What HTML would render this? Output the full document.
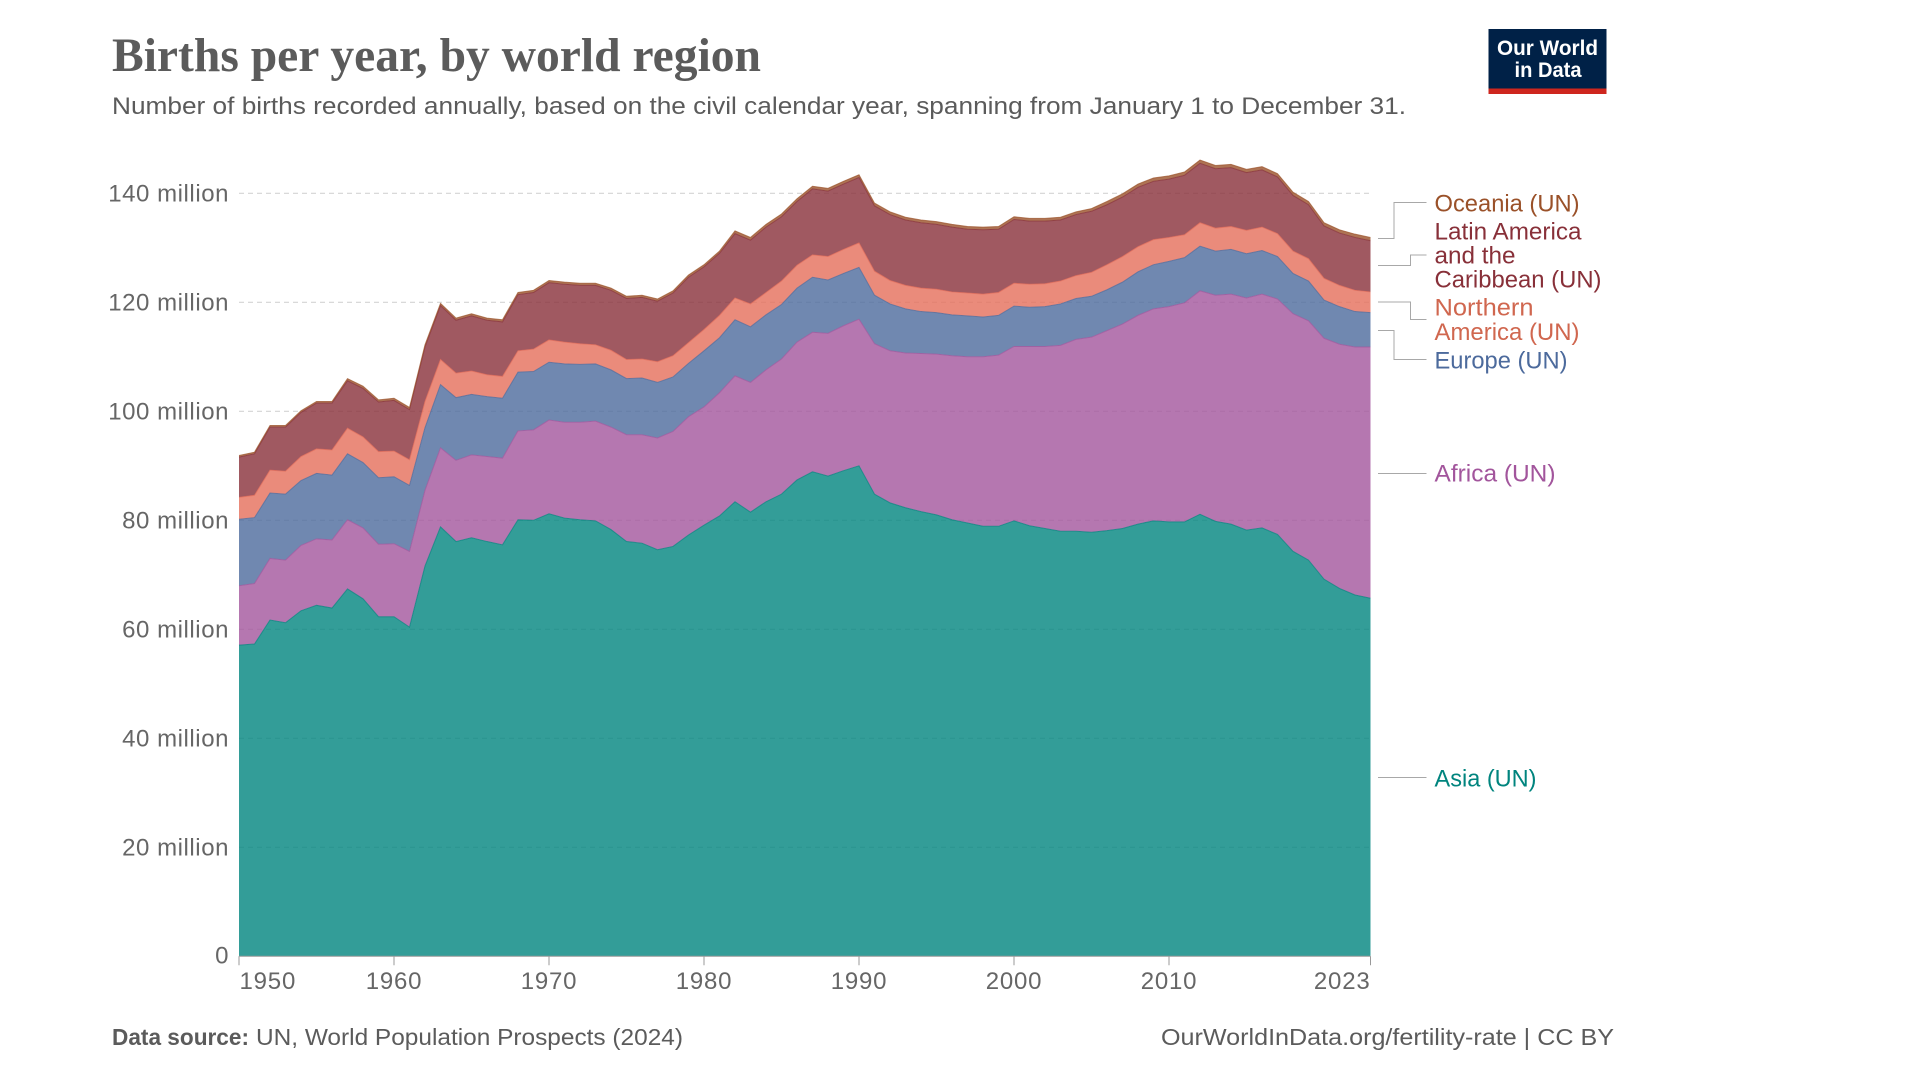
<!DOCTYPE html>
<html lang="en">
<head>
<meta charset="utf-8">
<title>Births per year, by world region</title>
<style>
html,body{margin:0;padding:0;background:#fff;width:1920px;height:1080px;overflow:hidden}
svg{display:block;font-family:"Liberation Sans",sans-serif}
</style>
</head>
<body>
<svg id="chart" xmlns="http://www.w3.org/2000/svg" width="1920" height="1080" viewBox="0 0 1920 1080">
  <rect width="1920" height="1080" fill="#fff"/>
  <text x="112" y="71" font-family="'Liberation Serif',serif" font-weight="700" font-size="48" fill="#5b5b5b" textLength="649" lengthAdjust="spacingAndGlyphs">Births per year, by world region</text>
  <text x="112" y="114" font-size="24" fill="#5b5b5b" textLength="1294" lengthAdjust="spacingAndGlyphs">Number of births recorded annually, based on the civil calendar year, spanning from January 1 to December 31.</text>

  <g>
    <rect x="1488.5" y="29" width="118" height="65" fill="#002147"/>
    <rect x="1488.5" y="88.5" width="118" height="5.5" fill="#ce261e"/>
    <text x="1497" y="55" font-size="21" font-weight="700" fill="#fff" textLength="101" lengthAdjust="spacingAndGlyphs">Our World</text>
    <text x="1514.5" y="77" font-size="21" font-weight="700" fill="#fff" textLength="67" lengthAdjust="spacingAndGlyphs">in Data</text>
  </g>

  <g id="grid"></g>
  <g id="areas"></g>
  <g id="borders"></g>
  <g id="yaxis"></g>
  <g id="xaxis"></g>

  <g fill="none" stroke="#a8a8a8" stroke-width="1">
    <path d="M1378 238.5H1394V202.5H1426.5"/>
    <path d="M1378 265.5H1410.5V255H1426.5"/>
    <path d="M1378 302H1410.5V319.5H1426.5"/>
    <path d="M1378 330.5H1394V359.5H1426.5"/>
    <path d="M1378 473.5H1426.5"/>
    <path d="M1378 777.5H1426.5"/>
  </g>

  <g font-size="24">
    <text x="1434.5" y="211.5" fill="#9a5129" textLength="145" lengthAdjust="spacingAndGlyphs">Oceania (UN)</text>
    <g fill="#883039">
      <text x="1434.5" y="239.5" textLength="147" lengthAdjust="spacingAndGlyphs">Latin America</text>
      <text x="1434.5" y="263.5" textLength="81" lengthAdjust="spacingAndGlyphs">and the</text>
      <text x="1434.5" y="287.5" textLength="167" lengthAdjust="spacingAndGlyphs">Caribbean (UN)</text>
    </g>
    <g fill="#d0674f">
      <text x="1434.5" y="315.5" textLength="99" lengthAdjust="spacingAndGlyphs">Northern</text>
      <text x="1434.5" y="340" textLength="145" lengthAdjust="spacingAndGlyphs">America (UN)</text>
    </g>
    <text x="1434.5" y="368.5" fill="#4c6a9c" textLength="133" lengthAdjust="spacingAndGlyphs">Europe (UN)</text>
    <text x="1434.5" y="481.5" fill="#a2559c" textLength="121" lengthAdjust="spacingAndGlyphs">Africa (UN)</text>
    <text x="1434.5" y="786.5" fill="#00847e" textLength="102" lengthAdjust="spacingAndGlyphs">Asia (UN)</text>
  </g>

  <text x="112" y="1045" font-size="23" font-weight="700" fill="#5b5b5b" textLength="137" lengthAdjust="spacingAndGlyphs">Data source:</text>
  <text x="256" y="1045" font-size="23" fill="#5b5b5b" textLength="427" lengthAdjust="spacingAndGlyphs">UN, World Population Prospects (2024)</text>
  <text x="1161" y="1045" font-size="23" fill="#5b5b5b" textLength="453" lengthAdjust="spacingAndGlyphs">OurWorldInData.org/fertility-rate | CC BY</text>
</svg>

<script>
const years = [1950,1951,1952,1953,1954,1955,1956,1957,1958,1959,
  1960,1961,1962,1963,1964,1965,1966,1967,1968,1969,
  1970,1971,1972,1973,1974,1975,1976,1977,1978,1979,
  1980,1981,1982,1983,1984,1985,1986,1987,1988,1989,
  1990,1991,1992,1993,1994,1995,1996,1997,1998,1999,
  2000,2001,2002,2003,2004,2005,2006,2007,2008,2009,
  2010,2011,2012,2013,2014,2015,2016,2017,2018,2019,
  2020,2021,2022,2023];
// Births per year, millions
const asia = [57.1,57.3,61.7,61.2,63.4,64.4,63.9,67.4,65.6,62.3,
  62.3,60.4,71.6,78.8,76.1,76.8,76.1,75.5,80.1,80.0,
  81.2,80.4,80.1,79.9,78.3,76.1,75.8,74.6,75.2,77.3,
  79.1,80.8,83.4,81.5,83.4,84.8,87.4,88.9,88.1,89.1,
  90.0,84.8,83.2,82.3,81.6,81.0,80.1,79.5,78.9,78.9,
  79.9,79.0,78.5,78.0,78.0,77.8,78.1,78.5,79.3,79.9,
  79.7,79.7,81.1,79.8,79.3,78.2,78.6,77.4,74.3,72.7,
  69.2,67.5,66.3,65.7];
const africa = [10.9,11.1,11.3,11.5,12.0,12.2,12.5,12.7,13.0,13.3,
  13.4,13.9,13.9,14.5,14.9,15.2,15.6,15.9,16.3,16.6,
  17.2,17.6,17.9,18.3,18.8,19.6,19.9,20.5,21.1,21.7,
  21.7,22.6,23.1,23.8,24.2,24.8,25.3,25.6,26.2,26.6,
  26.9,27.6,27.9,28.4,29.0,29.5,30.1,30.5,31.1,31.4,
  32.0,32.9,33.4,34.1,35.2,35.8,36.7,37.5,38.3,38.9,
  39.5,40.2,41.0,41.5,42.2,42.6,42.9,43.2,43.6,43.9,
  44.2,44.8,45.5,46.1];
const europe = [12.2,12.1,12.0,12.1,11.9,12.0,11.9,12.1,12.0,12.2,
  12.3,12.1,11.5,11.6,11.5,11.1,11.0,11.0,10.8,10.7,
  10.6,10.7,10.6,10.5,10.5,10.3,10.4,10.2,10.0,9.8,
  10.3,10.1,10.3,10.2,10.1,10.0,9.9,10.1,9.8,9.6,
  9.5,8.9,8.6,8.1,7.7,7.6,7.5,7.5,7.3,7.3,
  7.4,7.2,7.3,7.6,7.5,7.5,7.5,7.7,8.0,8.1,
  8.3,8.3,8.2,8.1,8.2,8.1,8.0,7.8,7.4,7.3,
  7.0,6.9,6.5,6.3];
const northernAmerica = [4.0,4.1,4.2,4.2,4.4,4.5,4.6,4.7,4.7,4.8,
  4.7,4.7,4.8,4.6,4.5,4.3,4.0,4.0,3.9,4.1,
  4.1,4.0,3.8,3.5,3.6,3.5,3.5,3.8,3.9,3.8,
  3.9,4.1,4.0,4.2,4.1,4.3,4.2,4.1,4.3,4.4,
  4.5,4.4,4.3,4.3,4.3,4.3,4.2,4.2,4.2,4.2,
  4.2,4.2,4.2,4.2,4.2,4.4,4.6,4.7,4.6,4.6,
  4.4,4.2,4.3,4.2,4.2,4.3,4.3,4.2,4.1,4.1,
  4.0,3.9,3.9,3.8];
const latinAmerica = [7.4,7.6,7.9,8.1,8.1,8.4,8.6,8.7,8.9,9.1,
  9.3,9.2,10.0,9.9,9.7,10.1,10.0,10.0,10.3,10.4,
  10.5,10.6,10.7,10.9,11.0,11.2,11.3,11.1,11.5,12.0,
  11.5,11.4,11.8,11.7,12.0,11.8,11.7,12.1,12.0,12.0,
  12.0,12.0,12.1,12.0,12.0,11.9,11.9,11.7,11.8,11.6,
  11.7,11.6,11.5,11.2,11.2,11.2,11.0,10.9,10.9,10.7,
  10.7,10.9,10.9,10.9,10.8,10.6,10.5,10.4,10.2,9.9,
  9.6,9.6,9.7,9.4];
const oceania = [0.3,0.3,0.3,0.3,0.3,0.3,0.3,0.4,0.4,0.4,
  0.4,0.4,0.4,0.4,0.4,0.4,0.4,0.4,0.4,0.4,
  0.4,0.4,0.4,0.4,0.4,0.4,0.4,0.4,0.4,0.4,
  0.4,0.4,0.5,0.5,0.5,0.5,0.5,0.5,0.5,0.5,
  0.5,0.5,0.5,0.5,0.5,0.5,0.5,0.5,0.5,0.5,
  0.5,0.5,0.5,0.5,0.5,0.5,0.6,0.6,0.6,0.6,
  0.6,0.6,0.6,0.6,0.6,0.6,0.6,0.6,0.6,0.6,
  0.6,0.6,0.6,0.6];
const seriesNames = ["asia","africa","europe","northern-america","latin-america","oceania"];
const seriesColors = ["#00847e","#a2559c","#4c6a9c","#e56e5a","#883039","#9a5129"];
const seriesValues = [asia,africa,europe,northernAmerica,latinAmerica,oceania];
const yTickValues = [0,20,40,60,80,100,120,140];
const yTickLabels = ["0","20 million","40 million","60 million","80 million","100 million","120 million","140 million"];
const xTickYears = [1950,1960,1970,1980,1990,2000,2010,2023];

const NS = "http://www.w3.org/2000/svg";
const plotLeft = 239, plotRight = 1370.5, plotBottom = 956.3, pxPerMillion = 5.45;
const firstYear = years[0], lastYear = years[years.length - 1];
function xScale(year){ return plotLeft + (year - firstYear) * (plotRight - plotLeft) / (lastYear - firstYear); }
function yScale(value){ return plotBottom - value * pxPerMillion; }
function make(tag){ return document.createElementNS(NS, tag); }

const gridG = document.getElementById("grid");
const yAxisG = document.getElementById("yaxis");
yTickValues.forEach(function(v, i){
  if (v !== 0) {
    const line = make("line");
    
    
    line.setAttribute("x1", plotLeft);
    line.setAttribute("x2", plotRight);
    line.setAttribute("y1", yScale(v));
    line.setAttribute("y2", yScale(v));
    line.setAttribute("stroke", "#d4d4d4");
    line.setAttribute("stroke-width", "1.2");
    line.setAttribute("stroke-dasharray", "5 4");
    gridG.appendChild(line);
  }
  const label = make("text");
  
  
  label.setAttribute("x", 229);
  label.setAttribute("y", yScale(v) + (v === 0 ? 7 : 8));
  label.setAttribute("text-anchor", "end");
  label.setAttribute("font-size", "24");
  label.setAttribute("letter-spacing", "0.55");
  label.setAttribute("fill", "#666666");
  label.textContent = yTickLabels[i];
  yAxisG.appendChild(label);
});

const areasG = document.getElementById("areas");
const bordersG = document.getElementById("borders");
let lower = years.map(function(){ return 0; });
seriesValues.forEach(function(values, s){
  const upper = values.map(function(v, i){ return lower[i] + v; });
  const topPts = years.map(function(yr, i){ return xScale(yr).toFixed(2) + "," + yScale(upper[i]).toFixed(2); });
  const lowPts = years.map(function(yr, i){ return xScale(yr).toFixed(2) + "," + yScale(lower[i]).toFixed(2); }).reverse();
  const poly = make("polygon");
  
  
  poly.setAttribute("points", topPts.concat(lowPts).join(" "));
  poly.setAttribute("fill", seriesColors[s]);
  poly.setAttribute("fill-opacity", "0.8");
  areasG.appendChild(poly);
  const border = make("polyline");
  
  
  border.setAttribute("points", topPts.join(" "));
  border.setAttribute("fill", "none");
  border.setAttribute("stroke", seriesColors[s]);
  border.setAttribute("stroke-width", "1");
  border.setAttribute("stroke-opacity", "0.7");
  bordersG.appendChild(border);
  lower = upper;
});

const xAxisG = document.getElementById("xaxis");
const axisLine = make("line");


axisLine.setAttribute("x1", plotLeft);
axisLine.setAttribute("x2", plotRight);
axisLine.setAttribute("y1", plotBottom);
axisLine.setAttribute("y2", plotBottom);
axisLine.setAttribute("stroke", "#999999");
axisLine.setAttribute("stroke-width", "1");
xAxisG.appendChild(axisLine);
xTickYears.forEach(function(yr){
  const tick = make("line");
  
  
  tick.setAttribute("x1", xScale(yr));
  tick.setAttribute("x2", xScale(yr));
  tick.setAttribute("y1", plotBottom);
  tick.setAttribute("y2", plotBottom + 9);
  tick.setAttribute("stroke", "#999999");
  tick.setAttribute("stroke-width", "1");
  xAxisG.appendChild(tick);
  const label = make("text");
  
  
  const isFirst = yr === firstYear, isLast = yr === lastYear;
  label.setAttribute("x", isFirst ? plotLeft + 0.5 : (isLast ? plotRight : xScale(yr)));
  label.setAttribute("y", 989);
  label.setAttribute("text-anchor", isFirst ? "start" : (isLast ? "end" : "middle"));
  label.setAttribute("font-size", "24");
  label.setAttribute("letter-spacing", "0.8");
  label.setAttribute("fill", "#666666");
  label.textContent = String(yr);
  xAxisG.appendChild(label);
});
</script>
</body>
</html>
